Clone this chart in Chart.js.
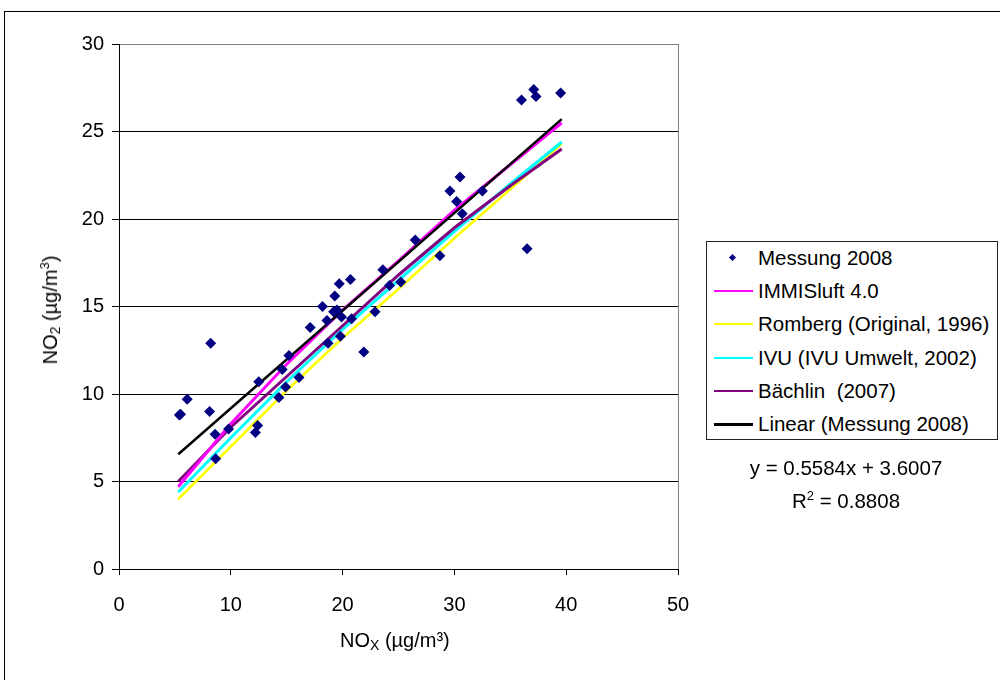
<!DOCTYPE html>
<html>
<head>
<meta charset="utf-8">
<script src="https://cdn.jsdelivr.net/npm/chart.js@4/dist/chart.umd.min.js"></script>
<style>
  body { margin: 0; background: #fff; }
  #wrap { position: relative; width: 1000px; height: 680px; overflow: hidden; font-family: 'Liberation Sans', Arial, sans-serif; color: #000; }
  #frame { position: absolute; left: 4px; top: 11px; width: 1100px; height: 800px; border-left: 1.5px solid #000; border-top: 1.5px solid #000; }
  canvas { position: absolute; left: 0; top: 0; }
  .ttl { position: absolute; font-size: 20px; white-space: nowrap; }
  .ttl sub { font-size: 14px; vertical-align: -3px; }
  .ttl sup { font-size: 13px; vertical-align: 8px; }
  #legend { position: absolute; left: 706px; top: 241px; width: 292px; height: 199px; box-sizing: border-box; border: 1.5px solid #222; background: #fff; }
  .row { position: absolute; left: 0; height: 24px; font-size: 20.5px; white-space: pre; }
  .row span.txt { position: absolute; left: 51px; top: 0; line-height: 24px; }
  .row .ln { position: absolute; left: 7px; top: 11px; width: 39px; height: 2px; }
  .row .dia { position: absolute; left: 23px; top: 9px; width: 5px; height: 5px; background: #000080; transform: rotate(45deg); }
  .eq { position: absolute; font-size: 20.5px; white-space: nowrap; transform: translateX(-50%); }
  .eq sup { font-size: 13px; vertical-align: 8px; }
</style>
</head>
<body>
<div id="wrap">
  <div id="frame"></div>
  <canvas id="c" width="1000" height="680"></canvas>
  <div class="ttl" style="left:340px; top:629px;">NO<sub>X</sub> (µg/m³)</div>
  <div class="ttl" id="ytitle" style="left:50px; top:310px; transform: translate(-50%,-50%) rotate(-90deg);">NO<sub>2</sub> (µg/m<sup>3</sup>)</div>
  <div id="legend"></div>
  <div class="eq" style="left:846px; top:456px;">y = 0.5584x + 3.6007</div>
  <div class="eq" style="left:846px; top:488px;">R<sup>2</sup> = 0.8808</div>
</div>
<script>
// Messung 2008 (NOx, NO2) in µg/m³
const measNOx = [5.4, 5.5, 6.1, 8.2, 8.1, 8.6, 8.65, 9.8, 12.2, 12.4, 12.5, 14.3, 14.9, 14.6, 15.2, 16.1,
  17.1, 18.7, 18.2, 19.3, 19.7, 20.7, 18.6, 19.2, 19.5, 19.9, 19.8, 20.8, 21.9, 22.9, 24.2, 25.2,
  23.6, 30.5, 29.6, 30.2, 32.5, 30.7, 26.5, 28.7, 36.5, 36.0, 37.1, 37.3, 39.5];
const measNO2 = [8.8, 8.85, 9.7, 12.9, 9.0, 7.7, 6.3, 8.0, 7.8, 8.2, 10.7, 9.8, 10.4, 11.4, 12.2, 10.95,
  13.8, 12.9, 15.0, 15.6, 16.3, 16.55, 14.2, 14.7, 14.8, 14.4, 13.3, 14.3, 12.4, 14.7, 16.2, 16.4,
  17.1, 22.4, 21.6, 21.0, 21.6, 20.3, 18.8, 17.9, 18.3, 26.8, 27.4, 27.0, 27.2];

// model curves
const modelNOx = [5.3, 10, 15, 20, 25, 30, 35, 39.6];
const immisNO2 = [4.7, 8.3, 11.7, 14.8, 17.6, 20.5, 23.1, 25.5];
const rombergNO2 = [4.0, 7.0, 10.2, 13.2, 16.0, 18.9, 21.7, 24.3];
const ivuNO2 = [4.4, 7.5, 10.7, 13.7, 16.5, 19.3, 22.0, 24.4];
const baechlinNO2 = [5.0, 8.1, 11.0, 13.9, 16.8, 19.5, 21.9, 24.0];

// linear trend of Messung 2008
const trendNOx = [5.3, 39.6];
const trendNO2 = [6.56, 25.71];

const xTicks = [0, 10, 20, 30, 40, 50];
const yTicks = [0, 5, 10, 15, 20, 25, 30];

const FONT = "'Liberation Sans', Arial, sans-serif";

const pts = (xs, ys) => xs.map((x, i) => ({ x, y: ys[i] }));

const lineSet = (label, xs, ys, color, w) => ({
  label,
  data: pts(xs, ys),
  showLine: true,
  borderColor: color,
  backgroundColor: color,
  borderWidth: w,
  pointRadius: 0,
  fill: false,
});

const datasets = [
  {
    label: 'Messung 2008',
    data: pts(measNOx, measNO2),
    pointStyle: 'rectRot',
    pointRadius: 5.5,
    backgroundColor: '#000080',
    borderColor: '#000080',
    borderWidth: 0,
    showLine: false,
  },
  lineSet('Linear (Messung 2008)', trendNOx, trendNO2, '#000000', 2.5),
  lineSet('IMMISluft 4.0', modelNOx, immisNO2, '#ff00ff', 3),
  lineSet('Bächlin  (2007)', modelNOx, baechlinNO2, '#800080', 3),
  lineSet('IVU (IVU Umwelt, 2002)', modelNOx, ivuNO2, '#00ffff', 3),
  lineSet('Romberg (Original, 1996)', modelNOx, rombergNO2, '#ffff00', 2.5),
];

new Chart(document.getElementById('c'), {
  type: 'scatter',
  data: { datasets },
  options: {
    responsive: false,
    animation: false,
    layout: { padding: { left: 0, top: 44, right: 322, bottom: 51 } },
    plugins: { legend: { display: false }, tooltip: { enabled: false } },
    scales: {
      x: {
        type: 'linear',
        min: 0,
        max: 50,
        afterBuildTicks: (s) => { s.ticks = xTicks.map((v) => ({ value: v })); },
        afterFit: (s) => { s.height = 60; },
        ticks: { color: '#000', font: { family: FONT, size: 20 }, padding: 18, maxRotation: 0 },
        grid: {
          color: (ctx) => (ctx.tick && ctx.tick.value === 50 ? '#808080' : 'rgba(0,0,0,0)'),
          tickColor: '#000',
          tickLength: 6,
          lineWidth: 1,
        },
        border: { color: '#000', width: 1 },
      },
      y: {
        type: 'linear',
        min: 0,
        max: 30,
        afterBuildTicks: (s) => { s.ticks = yTicks.map((v) => ({ value: v })); },
        afterFit: (s) => { s.width = 119; },
        ticks: { color: '#000', font: { family: FONT, size: 20 }, padding: 8 },
        grid: {
          color: (ctx) => (ctx.tick && ctx.tick.value === 30 ? '#808080' : '#000'),
          tickColor: '#000',
          tickLength: 7,
          lineWidth: 1,
        },
        border: { color: '#000', width: 1 },
      },
    },
  },
});

// legend in the same order as the original
const legendItems = [
  { text: 'Messung 2008', marker: true },
  { text: 'IMMISluft 4.0', color: '#ff00ff', h: 2 },
  { text: 'Romberg (Original, 1996)', color: '#ffff00', h: 2 },
  { text: 'IVU (IVU Umwelt, 2002)', color: '#00ffff', h: 2 },
  { text: 'Bächlin  (2007)', color: '#800080', h: 2 },
  { text: 'Linear (Messung 2008)', color: '#000000', h: 3 },
];
const legend = document.getElementById('legend');
legendItems.forEach((it, i) => {
  const row = document.createElement('div');
  row.className = 'row';
  row.style.top = (4 + i * 33.2) + 'px';
  row.style.width = '290px';
  const mark = document.createElement('div');
  if (it.marker) {
    mark.className = 'dia';
  } else {
    mark.className = 'ln';
    mark.style.background = it.color;
    mark.style.height = it.h + 'px';
  }
  const txt = document.createElement('span');
  txt.className = 'txt';
  txt.textContent = it.text;
  row.appendChild(mark);
  row.appendChild(txt);
  legend.appendChild(row);
});
</script>
</body>
</html>
